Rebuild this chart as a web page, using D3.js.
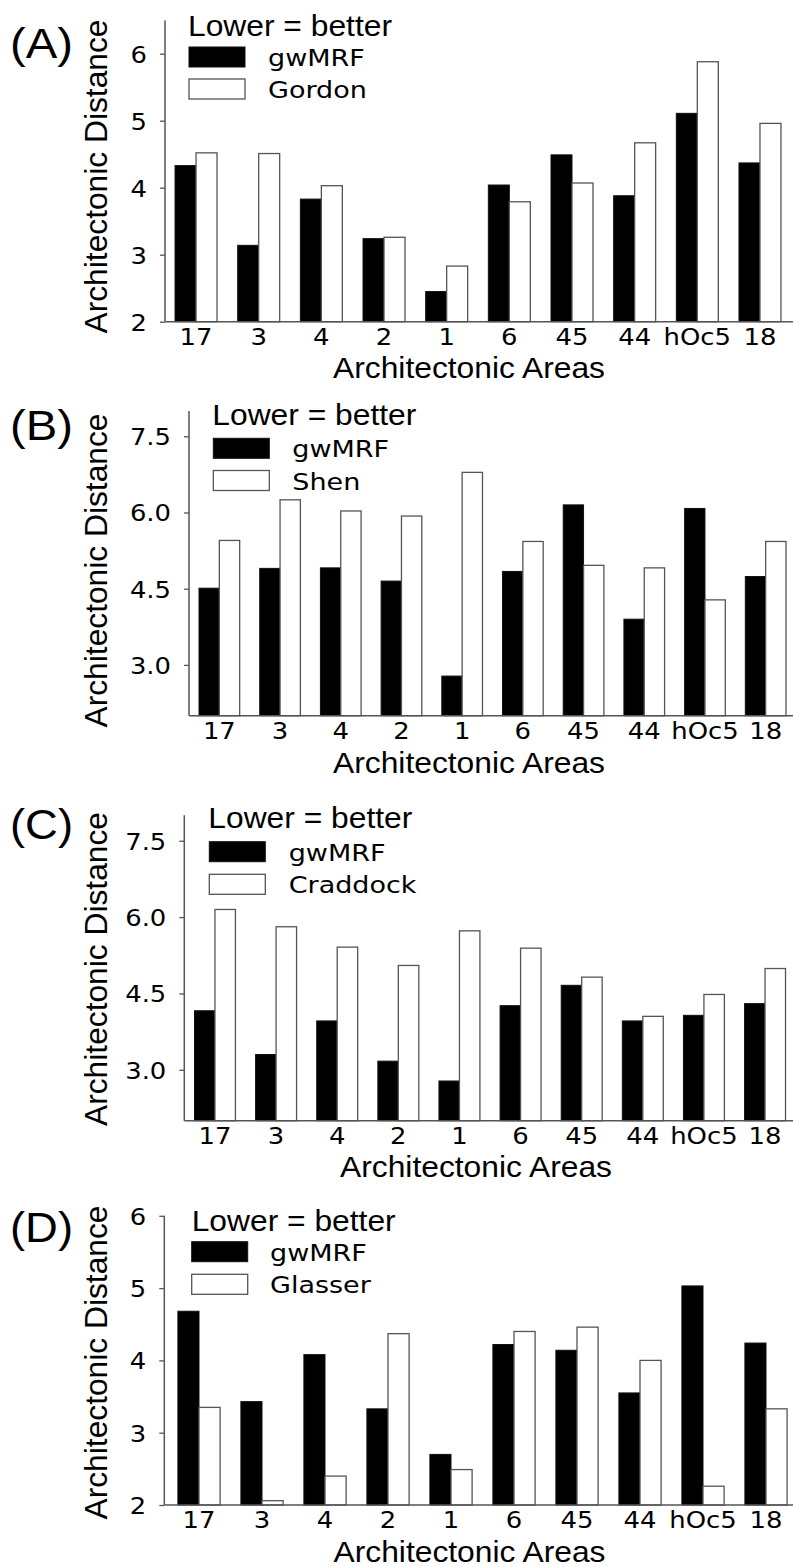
<!DOCTYPE html>
<html>
<head>
<meta charset="utf-8">
<script src="https://cdn.jsdelivr.net/npm/d3@7"></script>
<style>
  html, body { margin: 0; padding: 0; background: #fff; }
  svg { display: block; }
</style>
</head>
<body>
<svg id="chart" width="793" height="1567"></svg>
<script>
// ---------------- DATA ----------------
const categories = ["17", "3", "4", "2", "1", "6", "45", "44", "hOc5", "18"];

const gwmrfA  = [4.33, 3.14, 3.83, 3.24, 2.45, 4.04, 4.49, 3.88, 5.11, 4.37];
const gordon  = [4.52, 4.51, 4.03, 3.26, 2.83, 3.79, 4.07, 4.67, 5.88, 4.96];

const gwmrfB  = [4.51, 4.90, 4.91, 4.65, 2.78, 4.84, 6.15, 3.90, 6.08, 4.74];
const shen    = [5.45, 6.25, 6.03, 5.93, 6.79, 5.43, 4.96, 4.91, 4.28, 5.43];

const gwmrfC   = [4.16, 3.30, 3.96, 3.17, 2.78, 4.26, 4.66, 3.96, 4.07, 4.30];
const craddock = [6.15, 5.81, 5.41, 5.05, 5.73, 5.39, 4.82, 4.05, 4.48, 4.99];

const gwmrfD  = [4.68, 3.43, 4.08, 3.33, 2.70, 4.22, 4.14, 3.55, 5.03, 4.24];
const glasser = [3.35, 2.06, 2.40, 4.37, 2.49, 4.40, 4.46, 4.00, 2.26, 3.33];

const ticksA = [2, 3, 4, 5, 6];
const ticksB = [3.0, 4.5, 6.0, 7.5];
const ticksC = [3.0, 4.5, 6.0, 7.5];
const ticksD = [2, 3, 4, 5, 6];

const panelLabels = ["(A)", "(B)", "(C)", "(D)"];
const seriesNames = [["gwMRF", "Gordon"], ["gwMRF", "Shen"], ["gwMRF", "Craddock"], ["gwMRF", "Glasser"]];
const legendTitle = "Lower = better";
const yTitle = "Architectonic Distance";
const xTitle = "Architectonic Areas";

// ---------------- LAYOUT ----------------
const panels = [
  { a: gwmrfA, b: gordon,   ticks: ticksA, fmt: d3.format("d"),
    yDom: [2, 6.5], yR: [321.7, 20.2], spineX: 165, bandR: [164.7, 791.3],
    label: { y: 58 }, yTitle: { x: 107, y: 176.5 }, xTitle: { x: 469, y: 378 },
    leg: { titleX: 188, titleY: 36, boxX: 189, box1Y: 47, box2Y: 79, textX: 268 } },
  { a: gwmrfB, b: shen,     ticks: ticksB, fmt: d3.format(".1f"),
    yDom: [2, 8], yR: [715.7, 410.9], spineX: 189, bandR: [189, 796],
    label: { y: 440 }, yTitle: { x: 107, y: 570.5 }, xTitle: { x: 469, y: 773 },
    leg: { titleX: 212.3, titleY: 425, boxX: 213.3, box1Y: 438.3, box2Y: 470.5, textX: 292.3 } },
  { a: gwmrfC, b: craddock, ticks: ticksC, fmt: d3.format(".1f"),
    yDom: [2, 8], yR: [1120.7, 815.3], spineX: 184.3, bandR: [184.4, 795.6],
    label: { y: 839 }, yTitle: { x: 107, y: 969 }, xTitle: { x: 476, y: 1177 },
    leg: { titleX: 208.3, titleY: 828.3, boxX: 209.3, box1Y: 841.7, box2Y: 874.3, textX: 288.7 } },
  { a: gwmrfD, b: glasser,  ticks: ticksD, fmt: d3.format("d"),
    yDom: [2, 6], yR: [1505, 1215.8], spineX: 164.3, bandR: [167.5, 797.5],
    label: { y: 1241.7 }, yTitle: { x: 107, y: 1362.5 }, xTitle: { x: 469.5, y: 1561.5 },
    leg: { titleX: 191.7, titleY: 1230.7, boxX: 191.7, box1Y: 1241.7, box2Y: 1274.3, textX: 270 } }
];

const svg = d3.select("#chart");
const ARIAL = "'Liberation Sans', Arial, sans-serif";
const DEJAVU = "'DejaVu Sans', sans-serif";
const GREY = "#555";

function stretch(sel, k) {
  sel.each(function () {
    const len = this.getComputedTextLength();
    d3.select(this).attr("textLength", len * k).attr("lengthAdjust", "spacingAndGlyphs");
  });
}

panels.forEach((p, pi) => {
  const g = svg.append("g");
  const y = d3.scaleLinear().domain(p.yDom).range(p.yR);
  const x = d3.scaleBand().domain(categories).range(p.bandR).paddingInner(0.33).paddingOuter(0.165);
  const xs = d3.scaleBand().domain([0, 1]).range([0, x.bandwidth()]);

  // bars
  const grp = g.selectAll("g.cat").data(categories).join("g")
    .attr("transform", d => `translate(${x(d)},0)`);
  grp.append("rect")
    .attr("x", xs(0)).attr("width", xs.bandwidth())
    .attr("y", (d, i) => y(p.a[i])).attr("height", (d, i) => y(p.yDom[0]) - y(p.a[i]))
    .attr("fill", "#000").attr("stroke", "#111").attr("stroke-width", 1);
  grp.append("rect")
    .attr("x", xs(1)).attr("width", xs.bandwidth())
    .attr("y", (d, i) => y(p.b[i])).attr("height", (d, i) => y(p.yDom[0]) - y(p.b[i]))
    .attr("fill", "#fff").attr("stroke", GREY).attr("stroke-width", 1.3);

  // y axis
  const yAxis = g.append("g").attr("transform", `translate(${p.spineX},0)`)
    .call(d3.axisLeft(y).tickValues(p.ticks).tickFormat(p.fmt).tickSize(5).tickPadding(13));
  yAxis.select(".domain").remove();
  yAxis.selectAll(".tick line").attr("stroke", GREY).attr("stroke-width", 1.3);
  yAxis.selectAll(".tick text").attr("font-family", DEJAVU).attr("font-size", 23.5).attr("fill", "#000")
    .attr("dy", "0.36em");
  stretch(yAxis.selectAll(".tick text"), 1.1);
  // left spine
  g.append("line").attr("x1", p.spineX).attr("x2", p.spineX)
    .attr("y1", p.yR[1]).attr("y2", p.yR[0]).attr("stroke", GREY).attr("stroke-width", 1.5);

  // x axis
  const xAxis = g.append("g").attr("transform", `translate(0,${p.yR[0]})`)
    .call(d3.axisBottom(x).tickSize(0).tickPadding(0));
  xAxis.select(".domain").remove();
  xAxis.selectAll(".tick text").attr("font-family", DEJAVU).attr("font-size", 22.5).attr("fill", "#000")
    .attr("dy", 0).attr("y", 23);
  stretch(xAxis.selectAll(".tick text"), 1.15);
  g.append("line").attr("x1", p.spineX).attr("x2", 793)
    .attr("y1", p.yR[0]).attr("y2", p.yR[0]).attr("stroke", GREY).attr("stroke-width", 1.5);

  // panel label
  g.append("text").attr("x", 10).attr("y", p.label.y).text(panelLabels[pi])
    .attr("font-family", ARIAL).attr("font-size", 43).attr("textLength", 63).attr("lengthAdjust", "spacingAndGlyphs");

  // y title
  g.append("text").attr("transform", `translate(${p.yTitle.x},${p.yTitle.y}) rotate(-90)`)
    .attr("text-anchor", "middle").text(yTitle)
    .attr("font-family", ARIAL).attr("font-size", 31.5)
    .attr("textLength", 314).attr("lengthAdjust", "spacingAndGlyphs");

  // x title
  g.append("text").attr("x", p.xTitle.x).attr("y", p.xTitle.y).attr("text-anchor", "middle").text(xTitle)
    .attr("font-family", ARIAL).attr("font-size", 30)
    .attr("textLength", 272).attr("lengthAdjust", "spacingAndGlyphs");

  // legend
  const L = p.leg;
  g.append("text").attr("x", L.titleX).attr("y", L.titleY).text(legendTitle)
    .attr("font-family", ARIAL).attr("font-size", 30)
    .attr("textLength", 204).attr("lengthAdjust", "spacingAndGlyphs");
  g.append("rect").attr("x", L.boxX).attr("y", L.box1Y).attr("width", 56).attr("height", 20)
    .attr("fill", "#000").attr("stroke", "#111").attr("stroke-width", 1);
  g.append("rect").attr("x", L.boxX).attr("y", L.box2Y).attr("width", 56).attr("height", 20)
    .attr("fill", "#fff").attr("stroke", GREY).attr("stroke-width", 1.3);
  const lt = g.selectAll("text.leg").data(seriesNames[pi]).join("text").attr("class", "leg")
    .attr("x", L.textX).attr("y", (d, i) => (i === 0 ? L.box1Y : L.box2Y) + 19)
    .text(d => d).attr("font-family", DEJAVU).attr("font-size", 22.5).attr("fill", "#000");
  stretch(lt, 1.2);
});
</script>
</body>
</html>
